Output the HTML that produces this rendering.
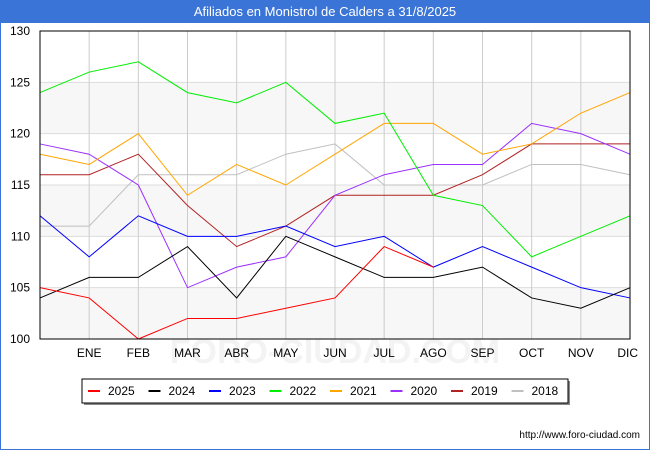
<!DOCTYPE html>
<html><head><meta charset="utf-8"><style>
body{margin:0;background:#fff;font-family:"Liberation Sans","DejaVu Sans",sans-serif}
#wrap{position:relative;width:648px;height:448px;border:1px solid #3a74d6;overflow:hidden}
#title{height:22px;background:#3a74d6;color:#fff;text-align:center;font-size:13px;line-height:22px}
</style></head><body>
<div id="wrap">
<div id="title">Afiliados en Monistrol de Calders a 31/8/2025</div>
<svg id="svg" width="650" height="428" style="position:absolute;left:-1px;top:22px"></svg>
</div>
<script>
const months=["","ENE","FEB","MAR","ABR","MAY","JUN","JUL","AGO","SEP","OCT","NOV","DIC"];
const yTicks=[100,105,110,115,120,125,130];
const seriesNames=["2025","2024","2023","2022","2021","2020","2019","2018"];
const colors=["#ff0000","#000000","#0000ff","#00ee00","#ffa500","#9b30ff","#b22222","#c0c0c0"];
const s2025=[105,104,100,102,102,103,104,109,107];
const s2024=[104,106,106,109,104,110,108,106,106,107,104,103,105];
const s2023=[112,108,112,110,110,111,109,110,107,109,107,105,104];
const s2022=[124,126,127,124,123,125,121,122,114,113,108,110,112];
const s2021=[118,117,120,114,117,115,118,121,121,118,119,122,124];
const s2020=[119,118,115,105,107,108,114,116,117,117,121,120,118];
const s2019=[116,116,118,113,109,111,114,114,114,116,119,119,119];
const s2018=[111,111,116,116,116,118,119,115,115,115,117,117,116];
const data=[s2025,s2024,s2023,s2022,s2021,s2020,s2019,s2018];
const svg=document.getElementById('svg');const NS="http://www.w3.org/2000/svg";
const L=40,R=630,T=8,B=316;
const x=i=>L+i*(R-L)/12, y=v=>B-(v-100)*(B-T)/30;
function mk(t,a,p){const e=document.createElementNS(NS,t);for(const k in a)e.setAttribute(k,a[k]);(p||svg).appendChild(e);return e;}
for(let k=0;k<6;k+=2){const r=mk('rect',{x:L,y:y(yTicks[k+1]),width:R-L,height:y(yTicks[k])-y(yTicks[k+1]),fill:'#f7f7f7'});

}
const wm=mk('text',{x:335,y:340,'text-anchor':'middle','font-size':34,fill:'#f3f3f3','font-weight':'bold'});wm.textContent="FORO-CIUDAD.COM";


yTicks.forEach(v=>{const l=mk('line',{x1:L,x2:R,y1:y(v),y2:y(v),stroke:'#dddddd'});


const t=mk('text',{x:L-10,y:y(v)+4,'text-anchor':'end','font-size':12,fill:'#000'});t.textContent=v;

});
months.forEach((m,i)=>{if(i>0){const l=mk('line',{x1:x(i),x2:x(i),y1:T,y2:B,stroke:'#cccccc'});

}
const t=mk('text',{x:x(i),y:B+18,'text-anchor':i==12?'end':'middle','font-size':12,fill:'#000'});t.textContent=m;if(i==12)t.setAttribute('x',x(i)+8);

});
for(let s=data.length-1;s>=0;s--){const p=mk('polyline',{points:data[s].map((v,i)=>x(i)+','+y(v)).join(' '),fill:'none',stroke:colors[s],'stroke-width':1});

}
const ax=mk('rect',{x:L,y:T,width:R-L,height:B-T,fill:'none',stroke:'#000'});


const lg=mk('g',{});


mk('rect',{x:84,y:358,width:486,height:24,fill:'#888'},lg);
mk('rect',{x:82,y:356,width:486,height:24,fill:'#fff',stroke:'#000'},lg);
seriesNames.forEach((n,i)=>{const g=mk('g',{},lg);


const lx=88+i*60.5;mk('line',{x1:lx,x2:lx+12,y1:368,y2:368,stroke:colors[i],'stroke-width':2},g);
const t=mk('text',{x:lx+20,y:372,'font-size':12,fill:'#000'},g);t.textContent=n;});
const u=mk('text',{x:640,y:415,'text-anchor':'end','font-size':10,fill:'#000'});u.textContent="http://www.foro-ciudad.com";


</script>
</body></html>
